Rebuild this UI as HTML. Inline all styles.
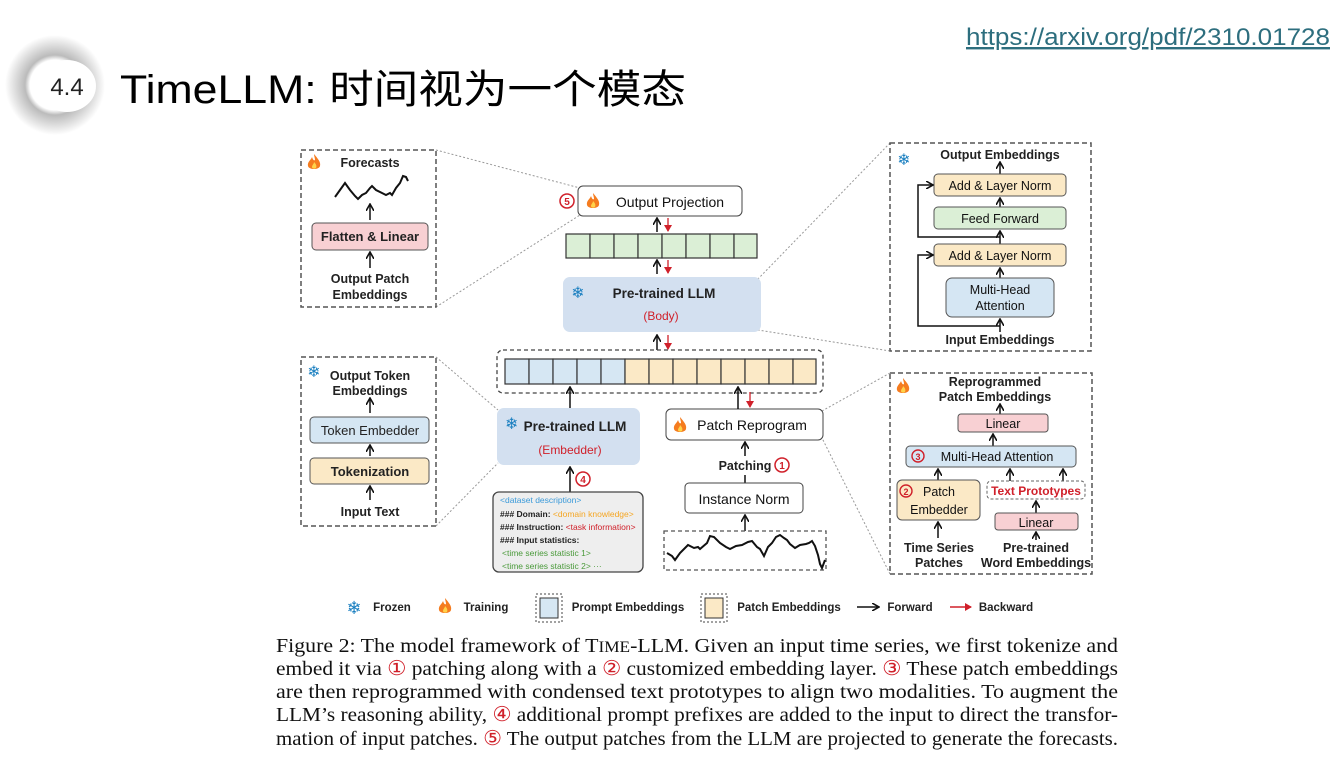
<!DOCTYPE html>
<html><head><meta charset="utf-8"><style>
html,body{margin:0;padding:0;background:#fff;}
svg{display:block;}
.d{font-family:"Liberation Sans","DejaVu Sans",sans-serif;font-weight:bold;}
.c{font-family:"Liberation Serif",serif;font-size:20.3px;fill:#111;}
</style></head><body>
<svg width="1343" height="762" viewBox="0 0 1343 762" xmlns="http://www.w3.org/2000/svg">
<defs>
<marker id="ab" markerWidth="8" markerHeight="8" refX="6" refY="4" orient="auto" markerUnits="userSpaceOnUse"><path d="M0,0 L7,4 L0,8" fill="none" stroke="#111" stroke-width="1.6"/></marker>
<marker id="ar" markerWidth="8" markerHeight="8" refX="6" refY="4" orient="auto" markerUnits="userSpaceOnUse"><path d="M0,0 L7,4 L0,8 z" fill="#d0202a"/></marker>
<radialGradient id="lg" cx="0.5" cy="0.5" r="0.5"><stop offset="0.5" stop-color="#fff"/><stop offset="0.6" stop-color="#bbb"/><stop offset="0.8" stop-color="#ddd"/><stop offset="1" stop-color="#fff"/></radialGradient>
<g id="fire"><path d="M0,-8 C4,-3 7,0 6,4 C5,8 -5,8 -6,4 C-7,0 -3,-2 -2,-5 C-1,-2 0,-1 1,-2 C1,-4 0,-6 0,-8z" fill="#f57c1f"/><path d="M0,0 C2,2 3,4 2,6 C1,7 -2,7 -2,5 C-2,3 0,2 0,0z" fill="#ffd24a"/></g>
</defs>

<!-- Logo -->
<circle cx="55" cy="85" r="50" fill="url(#lg)"/>
<ellipse cx="67" cy="86" rx="29" ry="26" fill="#fff"/>
<text x="67" y="95" font-family="Liberation Sans,sans-serif" font-size="24" text-anchor="middle" fill="#222">4.4</text>
<text x="120" y="103" font-family="'Liberation Sans','Noto Sans CJK SC',sans-serif" font-size="40" fill="#000" textLength="566" lengthAdjust="spacingAndGlyphs">TimeLLM: 时间视为一个模态</text>
<text x="966" y="45" font-family="'Liberation Sans',sans-serif" font-size="24" fill="#2d6e7e" text-decoration="underline" textLength="364" lengthAdjust="spacingAndGlyphs">https://arxiv.org/pdf/2310.01728</text>

<!-- dotted connectors -->
<g stroke="#999" stroke-width="1" stroke-dasharray="2,2" fill="none">
<line x1="436" y1="150" x2="580" y2="188"/><line x1="436" y1="307" x2="580" y2="215"/>
<line x1="890" y1="143" x2="757" y2="280"/><line x1="890" y1="351" x2="758" y2="330"/>
<line x1="436" y1="357" x2="498" y2="410"/><line x1="436" y1="526" x2="498" y2="463"/>
<line x1="890" y1="373" x2="822" y2="411"/><line x1="890" y1="574" x2="822" y2="438"/>
</g>

<g class="d" font-size="12.5" fill="#222" text-anchor="middle">
<!-- left top panel -->
<rect x="301" y="150" width="135" height="157" fill="none" stroke="#555" stroke-width="1.5" stroke-dasharray="5,3"/>
<use href="#fire" x="314" y="162"/>
<text x="370" y="167">Forecasts</text>
<polyline points="335,197 340,190 345,183 350,190 355,196 358,199 362,195 366,193 370,188 372,186 376,190 382,193 386,195 390,193 392,195 396,188 400,183 403,176 406,177 408,181" fill="none" stroke="#111" stroke-width="2"/>
<line x1="370" y1="220" x2="370" y2="205" stroke="#111" stroke-width="1.5" marker-end="url(#ab)"/>
<rect x="312" y="223" width="116" height="27" rx="4" fill="#f8d0d3" stroke="#555"/>
<text x="370" y="241" font-size="13">Flatten &amp; Linear</text>
<line x1="370" y1="268" x2="370" y2="253" stroke="#111" stroke-width="1.5" marker-end="url(#ab)"/>
<text x="370" y="283">Output Patch</text><text x="370" y="299">Embeddings</text>

<!-- left middle panel -->
<rect x="301" y="357" width="135" height="169" fill="none" stroke="#555" stroke-width="1.5" stroke-dasharray="5,3"/>
<text x="314" y="377" font-size="16" fill="#1a7fc0">❄</text>
<text x="370" y="380">Output Token</text><text x="370" y="395">Embeddings</text>
<line x1="370" y1="413" x2="370" y2="399" stroke="#111" stroke-width="1.5" marker-end="url(#ab)"/>
<rect x="310" y="417" width="119" height="26" rx="4" fill="#d5e6f3" stroke="#555"/>
<text x="370" y="435" font-size="13" font-weight="normal">Token Embedder</text>
<line x1="370" y1="456" x2="370" y2="446" stroke="#111" stroke-width="1.5" marker-end="url(#ab)"/>
<rect x="310" y="458" width="119" height="26" rx="4" fill="#fbe9c6" stroke="#555"/>
<text x="370" y="476" font-size="13">Tokenization</text>
<line x1="370" y1="500" x2="370" y2="487" stroke="#111" stroke-width="1.5" marker-end="url(#ab)"/>
<text x="370" y="516">Input Text</text>

<!-- center -->
<circle cx="567" cy="201" r="7" fill="none" stroke="#d0202a" stroke-width="1.5"/><text x="567" y="205" font-size="10" fill="#d0202a">5</text>
<rect x="578" y="186" width="164" height="30" rx="5" fill="#fff" stroke="#444"/>
<use href="#fire" x="593" y="201"/>
<text x="670" y="207" font-size="14" font-weight="normal" fill="#111">Output Projection</text>
<line x1="657" y1="232" x2="657" y2="219" stroke="#111" stroke-width="1.5" marker-end="url(#ab)"/>
<line x1="668" y1="218" x2="668" y2="231" stroke="#d0202a" stroke-width="1.3" marker-end="url(#ar)"/>
<g fill="#dbefd6" stroke="#333" stroke-width="1.2">
<rect x="566" y="234" width="24" height="24"/><rect x="590" y="234" width="24" height="24"/><rect x="614" y="234" width="24" height="24"/><rect x="638" y="234" width="24" height="24"/><rect x="662" y="234" width="24" height="24"/><rect x="686" y="234" width="24" height="24"/><rect x="710" y="234" width="24" height="24"/><rect x="734" y="234" width="23" height="24"/>
</g>
<line x1="657" y1="274" x2="657" y2="261" stroke="#111" stroke-width="1.5" marker-end="url(#ab)"/>
<line x1="668" y1="260" x2="668" y2="273" stroke="#d0202a" stroke-width="1.3" marker-end="url(#ar)"/>
<rect x="563" y="277" width="198" height="55" rx="7" fill="#d3e0f0"/>
<text x="578" y="298" font-size="16" fill="#1a7fc0">❄</text>
<text x="664" y="298" font-size="13.5">Pre-trained LLM</text>
<text x="661" y="320" font-size="12" font-weight="normal" fill="#d0202a">(Body)</text>
<line x1="657" y1="350" x2="657" y2="336" stroke="#111" stroke-width="1.5" marker-end="url(#ab)"/>
<line x1="668" y1="335" x2="668" y2="349" stroke="#d0202a" stroke-width="1.3" marker-end="url(#ar)"/>

<rect x="497" y="350" width="326" height="43" rx="6" fill="none" stroke="#444" stroke-width="1.3" stroke-dasharray="4,3"/>
<g stroke="#333" stroke-width="1.2">
<rect x="505" y="359" width="24" height="25" fill="#d6e7f3"/><rect x="529" y="359" width="24" height="25" fill="#d6e7f3"/><rect x="553" y="359" width="24" height="25" fill="#d6e7f3"/><rect x="577" y="359" width="24" height="25" fill="#d6e7f3"/><rect x="601" y="359" width="24" height="25" fill="#d6e7f3"/>
<rect x="625" y="359" width="24" height="25" fill="#fbe9c6"/><rect x="649" y="359" width="24" height="25" fill="#fbe9c6"/><rect x="673" y="359" width="24" height="25" fill="#fbe9c6"/><rect x="697" y="359" width="24" height="25" fill="#fbe9c6"/><rect x="721" y="359" width="24" height="25" fill="#fbe9c6"/><rect x="745" y="359" width="24" height="25" fill="#fbe9c6"/><rect x="769" y="359" width="24" height="25" fill="#fbe9c6"/><rect x="793" y="359" width="23" height="25" fill="#fbe9c6"/>
</g>
<rect x="497" y="408" width="143" height="57" rx="7" fill="#d3e0f0"/>
<text x="505" y="429" font-size="16" fill="#1a7fc0" text-anchor="start">❄</text>
<text x="575" y="431" font-size="13.5">Pre-trained LLM</text>
<text x="570" y="454" font-size="12" font-weight="normal" fill="#d0202a">(Embedder)</text>
<line x1="570" y1="408" x2="570" y2="388" stroke="#111" stroke-width="1.5" marker-end="url(#ab)"/>
<line x1="570" y1="492" x2="570" y2="468" stroke="#111" stroke-width="1.5" marker-end="url(#ab)"/>
<circle cx="583" cy="479" r="7" fill="none" stroke="#d0202a" stroke-width="1.5"/><text x="583" y="483" font-size="10" fill="#d0202a">4</text>

<rect x="493" y="492" width="150" height="80" rx="6" fill="#eeeeee" stroke="#444" stroke-width="1.3"/>
<g text-anchor="start" font-size="8.5">
<text x="500" y="503" font-weight="normal" fill="#3b9ad9">&lt;dataset description&gt;</text>
<text x="500" y="517">### Domain: <tspan font-weight="normal" fill="#f5a623">&lt;domain knowledge&gt;</tspan></text>
<text x="500" y="530">### Instruction: <tspan font-weight="normal" fill="#d0202a">&lt;task information&gt;</tspan></text>
<text x="500" y="543">### Input statistics:</text>
<text x="502" y="556" font-weight="normal" fill="#4a9a3a">&lt;time series statistic 1&gt;</text>
<text x="502" y="569" font-weight="normal" fill="#4a9a3a">&lt;time series statistic 2&gt;  ···</text>
</g>

<rect x="666" y="409" width="157" height="31" rx="5" fill="#fff" stroke="#444"/>
<use href="#fire" x="680" y="425"/>
<text x="752" y="430" font-size="14" font-weight="normal" fill="#111">Patch Reprogram</text>
<line x1="738" y1="409" x2="738" y2="388" stroke="#111" stroke-width="1.5" marker-end="url(#ab)"/>
<line x1="750" y1="392" x2="750" y2="407" stroke="#d0202a" stroke-width="1.3" marker-end="url(#ar)"/>
<line x1="745" y1="456" x2="745" y2="443" stroke="#111" stroke-width="1.5" marker-end="url(#ab)"/>
<text x="745" y="470" font-size="12.5">Patching</text>
<circle cx="782" cy="465" r="7" fill="none" stroke="#d0202a" stroke-width="1.5"/><text x="782" y="469" font-size="10" fill="#d0202a">1</text>
<line x1="745" y1="475" x2="745" y2="483" stroke="#111" stroke-width="1.5"/>
<rect x="685" y="483" width="118" height="30" rx="4" fill="#fff" stroke="#444"/>
<text x="744" y="504" font-size="14" font-weight="normal" fill="#111">Instance Norm</text>
<line x1="745" y1="531" x2="745" y2="516" stroke="#111" stroke-width="1.5" marker-end="url(#ab)"/>
<rect x="664" y="531" width="162" height="39" fill="none" stroke="#555" stroke-width="1.3" stroke-dasharray="4,3"/>
<polyline points="667,553 672,556 675,560 680,553 688,545 694,548 698,547 700,549 707,543 710,536 714,537 720,543 726,547 730,549 736,546 742,545 748,542 752,541 757,547 760,549 764,556 768,547 772,543 776,537 780,535 784,538 787,540 790,544 795,548 800,545 806,544 809,543 812,541 815,546 818,555 820,564 822,568 825,560" fill="none" stroke="#111" stroke-width="2"/>

<!-- right top panel -->
<rect x="890" y="143" width="201" height="208" fill="none" stroke="#555" stroke-width="1.5" stroke-dasharray="5,3"/>
<text x="904" y="165" font-size="16" fill="#1a7fc0">❄</text>
<text x="1000" y="159">Output Embeddings</text>
<line x1="1000" y1="174" x2="1000" y2="163" stroke="#111" stroke-width="1.5" marker-end="url(#ab)"/>
<rect x="934" y="174" width="132" height="22" rx="4" fill="#fbe9c6" stroke="#555"/>
<text x="1000" y="190" font-size="12.5" font-weight="normal" fill="#111">Add &amp; Layer Norm</text>
<line x1="1000" y1="207" x2="1000" y2="199" stroke="#111" stroke-width="1.5" marker-end="url(#ab)"/>
<rect x="934" y="207" width="132" height="22" rx="4" fill="#dbefd6" stroke="#555"/>
<text x="1000" y="223" font-size="12.5" font-weight="normal" fill="#111">Feed Forward</text>
<line x1="1000" y1="244" x2="1000" y2="232" stroke="#111" stroke-width="1.5" marker-end="url(#ab)"/>
<rect x="934" y="244" width="132" height="22" rx="4" fill="#fbe9c6" stroke="#555"/>
<text x="1000" y="260" font-size="12.5" font-weight="normal" fill="#111">Add &amp; Layer Norm</text>
<line x1="1000" y1="278" x2="1000" y2="269" stroke="#111" stroke-width="1.5" marker-end="url(#ab)"/>
<rect x="946" y="278" width="108" height="39" rx="6" fill="#d5e6f3" stroke="#555"/>
<text x="1000" y="294" font-size="12.5" font-weight="normal" fill="#111">Multi-Head</text>
<text x="1000" y="310" font-size="12.5" font-weight="normal" fill="#111">Attention</text>
<line x1="1000" y1="332" x2="1000" y2="320" stroke="#111" stroke-width="1.5" marker-end="url(#ab)"/>
<polyline points="1000,237 918,237 918,185 932,185" fill="none" stroke="#111" stroke-width="1.5" marker-end="url(#ab)"/>
<polyline points="1000,326 918,326 918,255 932,255" fill="none" stroke="#111" stroke-width="1.5" marker-end="url(#ab)"/>
<text x="1000" y="344">Input Embeddings</text>

<!-- right bottom panel -->
<rect x="890" y="373" width="202" height="201" fill="none" stroke="#555" stroke-width="1.5" stroke-dasharray="5,3"/>
<use href="#fire" x="903" y="386"/>
<text x="995" y="386">Reprogrammed</text><text x="995" y="401">Patch Embeddings</text>
<line x1="1000" y1="414" x2="1000" y2="405" stroke="#111" stroke-width="1.5" marker-end="url(#ab)"/>
<rect x="958" y="414" width="90" height="18" rx="3" fill="#f8d0d3" stroke="#555"/>
<text x="1003" y="428" font-size="12.5" font-weight="normal" fill="#111">Linear</text>
<line x1="993" y1="446" x2="993" y2="435" stroke="#111" stroke-width="1.5" marker-end="url(#ab)"/>
<rect x="906" y="446" width="170" height="21" rx="4" fill="#d5e6f3" stroke="#555"/>
<circle cx="918" cy="456" r="6" fill="none" stroke="#d0202a" stroke-width="1.4"/><text x="918" y="460" font-size="9" fill="#d0202a">3</text>
<text x="997" y="461" font-size="12.5" font-weight="normal" fill="#111">Multi-Head Attention</text>
<line x1="938" y1="480" x2="938" y2="470" stroke="#111" stroke-width="1.5" marker-end="url(#ab)"/>
<line x1="1010" y1="481" x2="1010" y2="470" stroke="#111" stroke-width="1.5" marker-end="url(#ab)"/>
<line x1="1063" y1="481" x2="1063" y2="470" stroke="#111" stroke-width="1.5" marker-end="url(#ab)"/>
<rect x="897" y="480" width="83" height="40" rx="5" fill="#fbe9c6" stroke="#555"/>
<circle cx="906" cy="491" r="6" fill="none" stroke="#d0202a" stroke-width="1.4"/><text x="906" y="495" font-size="9" fill="#d0202a">2</text>
<text x="939" y="496" font-size="12.5" font-weight="normal" fill="#111">Patch</text>
<text x="939" y="514" font-size="12.5" font-weight="normal" fill="#111">Embedder</text>
<rect x="987" y="481" width="98" height="18" rx="4" fill="none" stroke="#666" stroke-dasharray="3,2"/>
<text x="1036" y="495" font-size="12" fill="#d0202a">Text Prototypes</text>
<line x1="1036" y1="513" x2="1036" y2="502" stroke="#111" stroke-width="1.5" marker-end="url(#ab)"/>
<rect x="995" y="513" width="83" height="17" rx="3" fill="#f8d0d3" stroke="#555"/>
<text x="1036" y="527" font-size="12.5" font-weight="normal" fill="#111">Linear</text>
<line x1="938" y1="538" x2="938" y2="523" stroke="#111" stroke-width="1.5" marker-end="url(#ab)"/>
<line x1="1036" y1="540" x2="1036" y2="533" stroke="#111" stroke-width="1.5" marker-end="url(#ab)"/>
<text x="939" y="552">Time Series</text><text x="939" y="567">Patches</text>
<text x="1036" y="552">Pre-trained</text><text x="1036" y="567">Word Embeddings</text>

<!-- legend -->
<text x="354" y="614" font-size="18" fill="#1a7fc0">❄</text>
<text x="392" y="611" font-size="11.5">Frozen</text>
<use href="#fire" x="445" y="606"/>
<text x="486" y="611" font-size="11.5">Training</text>
<rect x="536" y="594" width="26" height="28" fill="none" stroke="#444" stroke-dasharray="2,2"/>
<rect x="540" y="598" width="18" height="20" fill="#d6e7f3" stroke="#333"/>
<text x="628" y="611" font-size="11.5">Prompt Embeddings</text>
<rect x="701" y="594" width="26" height="28" fill="none" stroke="#444" stroke-dasharray="2,2"/>
<rect x="705" y="598" width="18" height="20" fill="#fbe9c6" stroke="#333"/>
<text x="789" y="611" font-size="11.5">Patch Embeddings</text>
<line x1="857" y1="607" x2="878" y2="607" stroke="#111" stroke-width="1.5" marker-end="url(#ab)"/>
<text x="910" y="611" font-size="11.5">Forward</text>
<line x1="950" y1="607" x2="971" y2="607" stroke="#d0202a" stroke-width="1.5" marker-end="url(#ar)"/>
<text x="1006" y="611" font-size="11.5">Backward</text>
</g>

<!-- caption -->
<g class="c">
<text x="276" y="652" textLength="842" lengthAdjust="spacingAndGlyphs">Figure 2: The model framework of T<tspan font-size="16">IME</tspan>-LLM. Given an input time series, we first tokenize and</text>
<text x="276" y="675" textLength="842" lengthAdjust="spacingAndGlyphs">embed it via <tspan fill="#d0202a">①</tspan> patching along with a <tspan fill="#d0202a">②</tspan> customized embedding layer. <tspan fill="#d0202a">③</tspan> These patch embeddings</text>
<text x="276" y="698" textLength="842" lengthAdjust="spacingAndGlyphs">are then reprogrammed with condensed text prototypes to align two modalities.  To augment the</text>
<text x="276" y="721" textLength="842" lengthAdjust="spacingAndGlyphs">LLM’s reasoning ability, <tspan fill="#d0202a">④</tspan> additional prompt prefixes are added to the input to direct the transfor-</text>
<text x="276" y="745" textLength="842" lengthAdjust="spacingAndGlyphs">mation of input patches. <tspan fill="#d0202a">⑤</tspan> The output patches from the LLM are projected to generate the forecasts.</text>
</g>
</svg>
</body></html>
